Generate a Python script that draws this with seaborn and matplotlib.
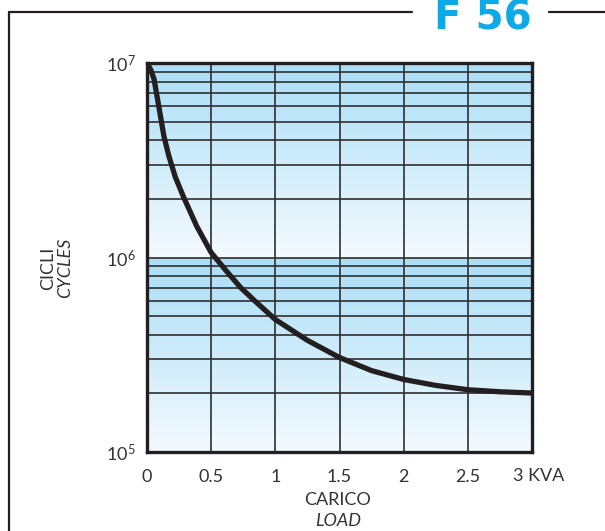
import numpy as np
import pandas as pd
import matplotlib
matplotlib.use("Agg")
import matplotlib.pyplot as plt
from matplotlib.colors import LinearSegmentedColormap
import seaborn as sns

# ---- data ----
load_kva = [0.0, 0.03, 0.055, 0.086, 0.132, 0.169, 0.22, 0.283, 0.387, 0.5, 0.62, 0.73, 0.85, 1.0,
            1.25, 1.5, 1.75, 2.0, 2.25, 2.5, 2.75, 3.0]
cycles = [1.0e7, 9.2e6, 8.25e6, 6.3e6, 4.2e6, 3.35e6, 2.6e6, 2.06e6, 1.45e6, 1.06e6, 8.5e5, 7.0e5, 5.9e5, 4.8e5,
          3.75e5, 3.06e5, 2.62e5, 2.36e5, 2.2e5, 2.09e5, 2.04e5, 2.01e5]
x_ticks = [0, 0.5, 1, 1.5, 2, 2.5, 3]
x_tick_labels = ["0", "0.5", "1", "1.5", "2", "2.5", ""]
y_decades = [1e5, 1e6, 1e7]
y_tick_labels = [r"$\mathregular{10^5}$", r"$\mathregular{10^6}$", r"$\mathregular{10^7}$"]
title_text = "F 56"

sns.set_style("white")
plt.rcParams['font.family'] = ['Lato', 'DejaVu Sans']
plt.rcParams['mathtext.fontset'] = 'custom'
plt.rcParams['mathtext.rm'] = 'Lato'

TXT = "#333333"
FS = 13

W, H, DPI = 605, 531, 100
fig = plt.figure(figsize=(W / DPI, H / DPI), dpi=DPI)
ax = fig.add_axes([147 / W, 1 - 452 / H, (532 - 147) / W, (452 - 63) / H])

ax.set_yscale("log")
ax.set_xlim(0, 3)
ax.set_ylim(1e5, 1e7)

# gradient background per decade
cmap = LinearSegmentedColormap.from_list("bg", ["#f4fafe", "#a9ddf6"])
nstrip = 120
for d0 in y_decades[:-1]:
    edges = np.logspace(np.log10(d0), np.log10(d0 * 10), nstrip + 1)
    frac = (np.arange(nstrip) + 0.5) / nstrip
    C = frac[:, None]
    ax.pcolormesh([0, 3], edges, C, cmap=cmap, vmin=0, vmax=1, shading="flat", zorder=0)

# grid lines
grid_c = "#2f2f2f"
for d0 in y_decades[:-1]:
    for m in range(2, 10):
        ax.axhline(d0 * m, color=grid_c, lw=1.2, zorder=1)
ax.axhline(1e6, color=grid_c, lw=1.2, zorder=1)
for xv in x_ticks[1:-1]:
    ax.axvline(xv, color=grid_c, lw=1.2, zorder=1)

df = pd.DataFrame({"load": load_kva, "cycles": cycles})
sns.lineplot(data=df, x="load", y="cycles", ax=ax, color="#231f20", lw=3.8, zorder=3)
ax.lines[-1].set_solid_joinstyle("round")

for s in ax.spines.values():
    s.set_visible(True)
    s.set_linewidth(2.4)
    s.set_color("#231f20")

ax.set_xticks(x_ticks)
ax.set_xticklabels(x_tick_labels)
ax.set_yticks(y_decades)
ax.set_yticklabels(y_tick_labels)
ax.yaxis.set_minor_locator(matplotlib.ticker.NullLocator())
ax.tick_params(axis="x", direction="out", length=5, width=1.2, color="#231f20",
               labelsize=FS, labelcolor=TXT, pad=7)
ax.tick_params(axis="y", direction="out", length=4, width=1.2, color="#231f20",
               labelsize=FS, labelcolor=TXT, pad=4)
ax.set_xlabel("")
ax.set_ylabel("")

ax.annotate("3 KVA", xy=(3, 0), xycoords=("data", "axes fraction"),
            xytext=(-14, -21), textcoords="offset points", ha="left", va="baseline",
            fontsize=FS, color=TXT)

# axis titles
fig.text(338 / W, 1 - 500 / H, "CARICO", ha="center", va="center", fontsize=FS, color=TXT)
fig.text(338 / W, 1 - 521 / H, "LOAD", ha="center", va="center", fontsize=FS,
         color=TXT, style="italic")
fig.text(48 / W, 1 - 268 / H, "CICLI", ha="center", va="center", rotation=90,
         fontsize=FS, color=TXT)
fig.text(65 / W, 1 - 268 / H, "CYCLES", ha="center", va="center", rotation=90,
         fontsize=FS, color=TXT, style="italic")

# outer frame & title
frame_c = "#231f20"
fig.add_artist(plt.Line2D([9 / W, 9 / W], [1 - 12 / H, 0], transform=fig.transFigure,
                          color=frame_c, lw=1.6))
fig.add_artist(plt.Line2D([9 / W, 412 / W], [1 - 12 / H, 1 - 12 / H], transform=fig.transFigure,
                          color=frame_c, lw=1.6))
fig.add_artist(plt.Line2D([549 / W, 1], [1 - 12 / H, 1 - 12 / H], transform=fig.transFigure,
                          color=frame_c, lw=1.6))
fig.text(483 / W, 1 - 30 / H, title_text, ha="center", va="baseline", fontsize=29,
         fontweight="bold", color="#0eaae8", family=["DejaVu Sans"])

fig.savefig("out.png", dpi=DPI)
